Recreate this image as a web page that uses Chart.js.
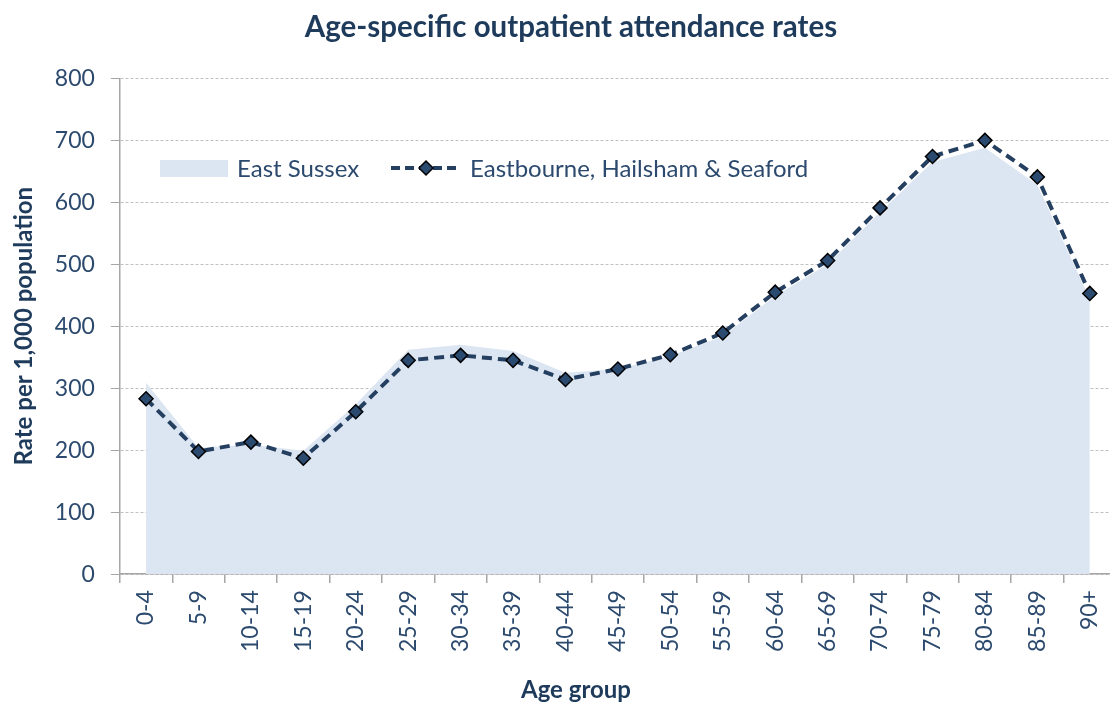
<!DOCTYPE html>
<html>
<head>
<meta charset="utf-8">
<script src="https://cdn.jsdelivr.net/npm/chart.js@4.4.1/dist/chart.umd.min.js"></script>
<style>
    html, body { margin: 0; padding: 0; background: #fff; overflow: hidden; }
    #wrap { width: 1142px; height: 702px; }
</style>
</head>
<body>
<div id="wrap"><canvas id="chart"></canvas></div>
<script>
const ageGroups = ['0-4', '5-9', '10-14', '15-19', '20-24', '25-29', '30-34', '35-39', '40-44',
    '45-49', '50-54', '55-59', '60-64', '65-69', '70-74', '75-79', '80-84', '85-89', '90+']
const eastSussex = [309, 204, 209, 199, 274, 362, 370, 360, 325, 331, 352, 384, 449, 500, 584, 665, 688, 628, 444]
const eastbourne = [283, 198, 213, 187, 262, 345, 353, 345, 314, 331, 354, 389, 455, 506, 591, 674, 700, 641, 453]
const yTicks = [0, 100, 200, 300, 400, 500, 600, 700, 800]

const textColor = '#1f3b5c'
const tickColor = '#2c4a6e'
const fontFamily = 'Lato, "Open Sans", sans-serif'

// legend drawn inside the plot area, like the Excel original
// (also the x axis title, which Excel centres on the whole chart, not the plot)
const insideLegend = {
    id: 'insideLegend',
    afterDraw(chart) {
        const ctx = chart.ctx
        const y = 168
        ctx.save()
        ctx.font = '24px ' + fontFamily
        ctx.textBaseline = 'middle'
        ctx.fillStyle = '#dce6f2'
        ctx.fillRect(160, y - 8, 68, 17)
        ctx.fillStyle = tickColor
        ctx.fillText(chart.data.datasets[0].label, 237, y + 1)

        ctx.strokeStyle = '#243f60'
        ctx.lineWidth = 4
        ctx.setLineDash([9, 5])
        ctx.beginPath()
        ctx.moveTo(391, y)
        ctx.lineTo(461, y)
        ctx.stroke()
        ctx.setLineDash([])
        ctx.beginPath()
        ctx.moveTo(426, y - 7)
        ctx.lineTo(433, y)
        ctx.lineTo(426, y + 7)
        ctx.lineTo(419, y)
        ctx.closePath()
        ctx.fillStyle = '#2b4a70'
        ctx.fill()
        ctx.lineWidth = 1.5
        ctx.strokeStyle = '#000'
        ctx.stroke()
        ctx.fillStyle = tickColor
        ctx.fillText(chart.data.datasets[1].label, 470, y + 1)

        const xt = chart.options.scales.x.title
        ctx.font = 'bold 24px ' + fontFamily
        ctx.fillStyle = textColor
        ctx.textAlign = 'center'
        ctx.fillText(xt.text, 576, 690)
        ctx.restore()
    }
}

const ctx = document.getElementById('chart').getContext('2d')
const chart = new Chart(ctx, {
    type: 'line',
    data: {
        labels: ageGroups,
        datasets: [{
            label: 'East Sussex',
            data: eastSussex,
            fill: 'origin',
            backgroundColor: '#dce6f2',
            borderWidth: 0,
            borderColor: 'rgba(0,0,0,0)',
            pointRadius: 0,
            tension: 0,
            order: 2
        }, {
            label: 'Eastbourne, Hailsham & Seaford',
            data: eastbourne,
            fill: false,
            borderColor: '#243f60',
            borderWidth: 4,
            borderDash: [10, 6],
            pointStyle: 'rectRot',
            pointRadius: 7,
            pointBackgroundColor: '#2b4a70',
            pointBorderColor: '#000',
            pointBorderWidth: 1.5,
            tension: 0,
            order: 1
        }]
    },
    options: {
        responsive: true,
        maintainAspectRatio: false,
        animation: false,
        layout: { padding: 0 },
        plugins: {
            legend: { display: false },
            tooltip: { enabled: false },
            title: {
                display: true,
                text: 'Age-specific outpatient attendance rates',
                color: textColor,
                font: { family: fontFamily, size: 29.5, weight: 'bold', lineHeight: 1.2 },
                padding: { top: 10, bottom: 33 }
            }
        },
        scales: {
            x: {
                offset: true,
                grid: {
                    offset: true,
                    drawOnChartArea: false,
                    color: '#a6a6a6',
                    tickLength: 9,
                    lineWidth: 1.5
                },
                border: { color: '#a6a6a6', width: 1.5 },
                ticks: {
                    color: tickColor,
                    font: { family: fontFamily, size: 23 },
                    minRotation: 90,
                    maxRotation: 90,
                    padding: 7,
                    autoSkip: false
                },
                title: {
                    // keeps the space; the text itself is drawn by insideLegend
                    display: true,
                    text: 'Age group',
                    color: 'rgba(0,0,0,0)',
                    font: { family: fontFamily, size: 24, weight: 'bold', lineHeight: 1 },
                    padding: { top: 19, bottom: 0 }
                }
            },
            y: {
                min: 0,
                max: 800,
                afterBuildTicks(axis) {
                    axis.ticks = yTicks.map(v => ({ value: v }))
                },
                grid: {
                    color: '#c0c0c0',
                    tickColor: '#a6a6a6',
                    tickLength: 9,
                    tickBorderDash: [],
                    lineWidth: 1
                },
                border: { color: '#a6a6a6', width: 1.5, dash: [3, 2] },
                ticks: {
                    color: tickColor,
                    font: { family: fontFamily, size: 23 },
                    padding: 16
                },
                title: {
                    display: true,
                    text: 'Rate per 1,000 population',
                    color: textColor,
                    font: { family: fontFamily, size: 24, weight: 'bold', lineHeight: 1.2 },
                    padding: { top: 10, bottom: 0 }
                }
            },
            // empty spacer on the right so the plot ends where the original does
            spacer: {
                type: 'linear',
                position: 'right',
                grid: { display: false },
                border: { display: false },
                ticks: { display: false },
                afterFit(axis) {
                    axis.width = 26
                }
            }
        }
    },
    plugins: [insideLegend]
})
</script>
</body>
</html>
